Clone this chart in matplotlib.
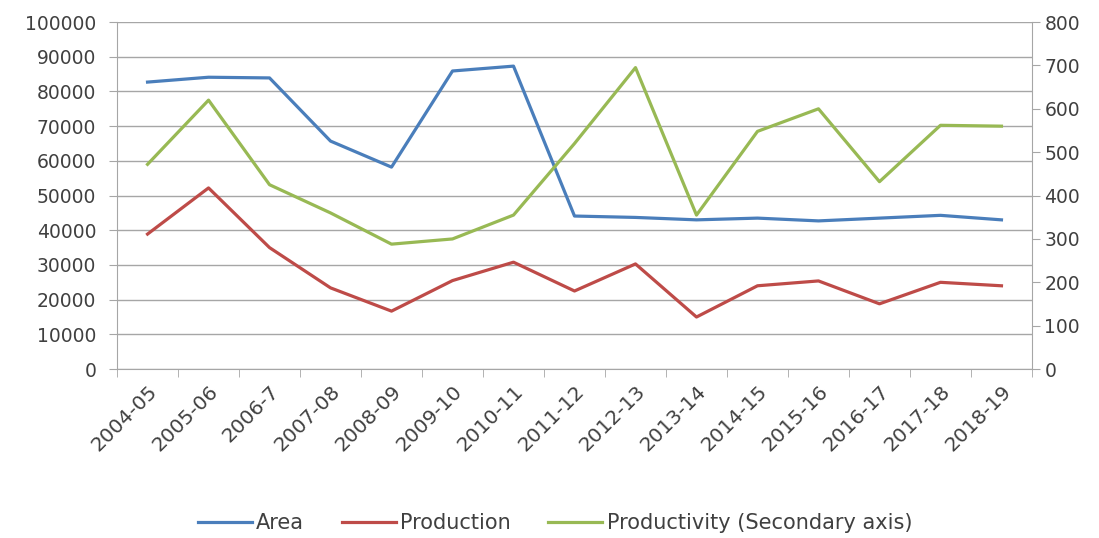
import numpy as np
import matplotlib.pyplot as plt
from matplotlib import rcParams

rcParams['font.family'] = ['DejaVu Sans']

years = ['2004-05', '2005-06', '2006-7', '2007-08', '2008-09', '2009-10', '2010-11',
         '2011-12', '2012-13', '2013-14', '2014-15', '2015-16', '2016-17', '2017-18', '2018-19']
area = [82700, 84100, 83900, 65700, 58200, 85900, 87300, 44100, 43700, 43000,
        43500, 42700, 43500, 44300, 43000]
production = [38900, 52200, 35000, 23400, 16700, 25500, 30800, 22500, 30300, 15000,
              24000, 25400, 18800, 25000, 24000]
productivity = [472, 620, 425, 360, 288, 300, 355, 520, 695, 355, 548, 600, 432, 562, 560]

c_area = '#4A7EBB'
c_prod = '#BE4B48'
c_pty = '#98B954'
txt = '#404040'
grey = '#A6A6A6'

fig = plt.figure(figsize=(10.99, 5.38), dpi=100)
ax1 = fig.add_axes([0.1065, 0.314, 0.8325, 0.645])
ax2 = ax1.twinx()

x = np.arange(len(years))
l1, = ax1.plot(x, area, color=c_area, lw=2.3, label='Area')
l2, = ax1.plot(x, production, color=c_prod, lw=2.3, label='Production')
l3, = ax2.plot(x, productivity, color=c_pty, lw=2.3, label='Productivity (Secondary axis)')

ax1.set_xlim(-0.5, len(years) - 0.5)
ax1.set_ylim(0, 100000)
ax1.set_yticks(np.arange(0, 100001, 10000))
ax2.set_ylim(0, 800)
ax2.set_yticks(np.arange(0, 801, 100))

ax1.grid(axis='y', color=grey, lw=1)
ax1.set_axisbelow(True)

ax1.set_xticks(x)
ax1.set_xticklabels(years, rotation=45, ha='right', rotation_mode='anchor', color=txt, fontsize=14.5)
ax1.set_xticks(np.arange(-0.5, len(years), 1), minor=True)
ax1.tick_params(axis='x', which='major', length=0, pad=9)
ax1.tick_params(axis='x', which='minor', length=6, color=grey)
ax1.tick_params(axis='y', length=6, color=grey, labelcolor=txt, labelsize=13.5, pad=9)
ax2.tick_params(axis='y', length=6, color=grey, labelcolor=txt, labelsize=13.5, pad=3)

for ax in (ax1, ax2):
    for s in ax.spines.values():
        s.set_visible(False)
ax1.spines['left'].set_visible(True)
ax1.spines['left'].set_color(grey)
ax1.spines['bottom'].set_visible(True)
ax1.spines['bottom'].set_color(grey)
ax2.spines['right'].set_visible(True)
ax2.spines['right'].set_color(grey)

fig.legend(handles=[l1, l2, l3], loc='center', bbox_to_anchor=(0.505, 0.028), ncol=3,
           frameon=False, fontsize=15, handlelength=2.6, columnspacing=1.8,
           handletextpad=0.2, labelcolor=txt)

plt.savefig('out.png', dpi=100)
